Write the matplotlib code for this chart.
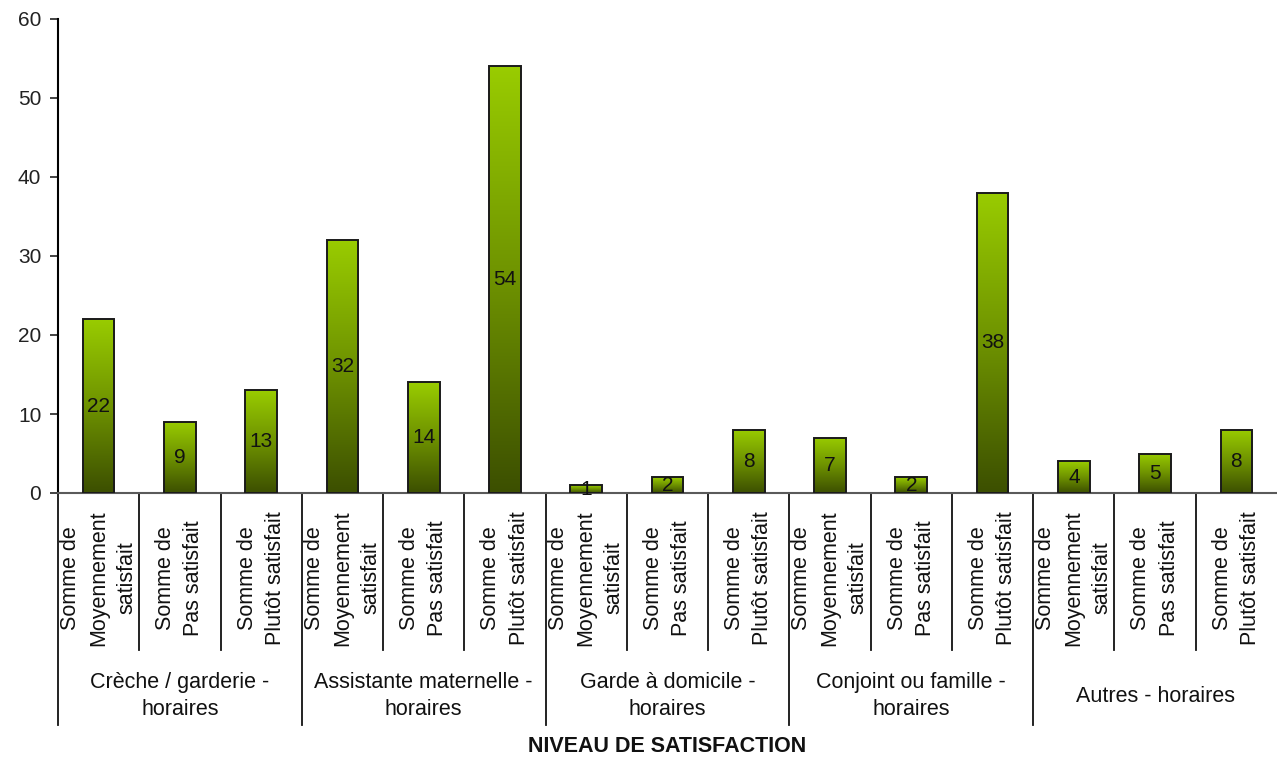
#!/usr/bin/env python3
"""Niveau de satisfaction par mode de garde - barres en dégradé style Excel."""
import matplotlib
matplotlib.use("Agg")
import matplotlib.pyplot as plt
import matplotlib.transforms as mtransforms
from matplotlib.colors import LinearSegmentedColormap
import numpy as np

plt.rcParams["font.family"] = ["Liberation Sans", "DejaVu Sans"]

GROUPS = [
    "Crèche / garderie -\nhoraires",
    "Assistante maternelle -\nhoraires",
    "Garde à domicile -\nhoraires",
    "Conjoint ou famille -\nhoraires",
    "Autres - horaires",
]
LEVELS = [
    "Somme de\nMoyennement\nsatisfait",
    "Somme de\nPas satisfait",
    "Somme de\nPlutôt satisfait",
]
VALUES = [22, 9, 13,
          32, 14, 54,
          1, 2, 8,
          7, 2, 38,
          4, 5, 8]
Y_TICKS = [0, 10, 20, 30, 40, 50, 60]
X_TITLE = "NIVEAU DE SATISFACTION"

W, H = 1277, 760
fig = plt.figure(figsize=(W / 100, H / 100), dpi=100)
ax = fig.add_axes([58 / W, 1 - 493 / H, 1 - 58 / W, (493 - 19) / H])

n_lv = len(LEVELS)
n = len(VALUES)
xs = np.arange(n)
bw = 0.39

cmap = LinearSegmentedColormap.from_list("grn", ["#3C4F00", "#6E9200", "#99CC00"])
grad = np.linspace(0, 1, 256).reshape(-1, 1)

bars = ax.bar(xs, VALUES, width=bw, facecolor="none", edgecolor="#1a1a1a",
              linewidth=1.4, zorder=3)
for b, v in zip(bars, VALUES):
    x0 = b.get_x()
    im = ax.imshow(grad, cmap=cmap, origin="lower", aspect="auto",
                   extent=[x0, x0 + bw, 0, v], zorder=2, interpolation="bilinear")
    im.set_clip_path(b)
    ax.text(b.get_x() + bw / 2, v / 2, str(v), ha="center", va="center",
            fontsize=15, color="#111111", zorder=4)

ax.set_xlim(-0.5, n - 0.5)
ax.set_ylim(0, 60)
ax.set_yticks(Y_TICKS)
ax.tick_params(axis="y", length=6, width=1.2, labelsize=15, pad=6, colors="#222222")
ax.set_xticks([])
for s in ("top", "right"):
    ax.spines[s].set_visible(False)
ax.spines["left"].set_linewidth(1.5)
ax.spines["bottom"].set_color("#5a5a5a")
ax.spines["bottom"].set_linewidth(1.5)

# axe des catégories à deux niveaux
trans = mtransforms.blended_transform_factory(ax.transData, fig.transFigure)
y_axis = 1 - 493 / H
y_inner = 1 - 650 / H
y_group = 1 - 725 / H
for i in range(n):
    xb = i - 0.5
    y_end = y_group if i % n_lv == 0 else y_inner
    ax.plot([xb, xb], [y_axis, y_end], transform=trans, color="#111111",
            lw=1.3, clip_on=False)

for i in range(n):
    ax.text(i, 1 - 578 / H, LEVELS[i % n_lv], transform=trans, rotation=90,
            ha="center", va="center", multialignment="center",
            fontsize=15.5, color="#111111", linespacing=1.45)

for g, name in enumerate(GROUPS):
    xc = g * n_lv + (n_lv - 1) / 2
    ax.text(xc, 1 - 696 / H, name, transform=trans, ha="center", va="center",
            multialignment="center", fontsize=15.5, color="#111111",
            linespacing=1.35)

fig.text((58 + W) / 2 / W, 1 - 747 / H, X_TITLE, ha="center", va="center",
         fontsize=15.5, fontweight="bold", color="#111111")

fig.savefig("out.png", dpi=100, facecolor="white")
